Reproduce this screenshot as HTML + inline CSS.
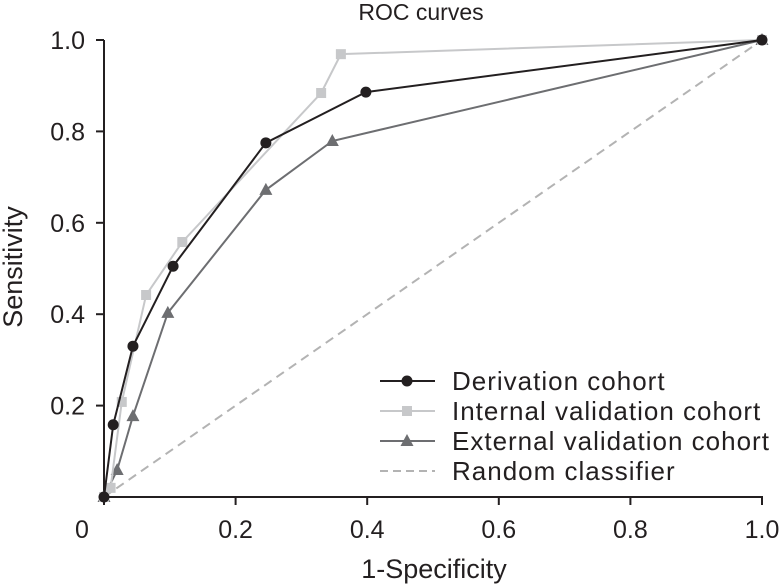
<!DOCTYPE html>
<html><head><meta charset="utf-8"><style>
body{margin:0;background:#fff}
svg{display:block;font-family:"Liberation Sans",Arial,sans-serif}
</style></head><body>
<svg id="chart" width="780" height="585">
<text x="421" y="20" font-size="23" text-anchor="middle" fill="#231f20">ROC curves</text>
<g id="axes"></g>
<g id="series"></g>
<g id="legend"></g>
</svg>
<script>
const xTicks=[0,0.2,0.4,0.6,0.8,1.0];
const yTicks=[0.2,0.4,0.6,0.8,1.0];
const xTickLabels=["0","0.2","0.4","0.6","0.8","1.0"];
const yTickLabels=["0.2","0.4","0.6","0.8","1.0"];
const derivX=[0,0.014,0.044,0.105,0.246,0.398,1];
const derivY=[0,0.158,0.33,0.505,0.775,0.886,1];
const internalX=[0,0.01,0.027,0.064,0.119,0.33,0.36,1];
const internalY=[0,0.02,0.208,0.442,0.558,0.884,0.969,1];
const externalX=[0,0.02,0.044,0.097,0.246,0.347,1];
const externalY=[0,0.059,0.177,0.403,0.672,0.779,1];
const randomX=[0,1];
const randomY=[0,1];
const legendLabels=["Derivation cohort","Internal validation cohort","External validation cohort","Random classifier"];

const NS="http://www.w3.org/2000/svg";
const X0=104,X1=762,Y0=497,Y1=40;
const sx=v=>X0+v*(X1-X0);
const sy=v=>Y0-v*(Y0-Y1);
function mk(tag,attrs,parent){const e=document.createElementNS(NS,tag);for(const k in attrs)e.setAttribute(k,attrs[k]);parent.appendChild(e);return e;}
const axes=document.getElementById('axes');
let e;
e=mk('line',{x1:X0,y1:Y1,x2:X0,y2:Y0+1,stroke:'#231f20','stroke-width':2},axes);


e=mk('line',{x1:X0-1,y1:Y0,x2:X1+1,y2:Y0,stroke:'#231f20','stroke-width':2},axes);


xTicks.forEach((v,i)=>{
 mk('line',{x1:sx(v),y1:Y0,x2:sx(v),y2:Y0+8,stroke:'#231f20','stroke-width':2},axes);
 const t=mk('text',{x:sx(v)-(i==0?22:0),y:538,'font-size':25,'text-anchor':'middle',fill:'#231f20'},axes);
 t.textContent=xTickLabels[i];
 
 
});
yTicks.forEach((v,i)=>{
 mk('line',{x1:X0-8,y1:sy(v),x2:X0,y2:sy(v),stroke:'#231f20','stroke-width':2},axes);
 const t=mk('text',{x:X0-19,y:sy(v)+9,'font-size':25,'text-anchor':'end',fill:'#231f20'},axes);
 t.textContent=yTickLabels[i];
 
 
});
e=mk('text',{x:434,y:578,'font-size':27,'text-anchor':'middle',fill:'#231f20'},axes);
e.textContent='1-Specificity';


e=mk('text',{x:0,y:0,'font-size':27,'text-anchor':'middle',fill:'#231f20',transform:'translate(22,267) rotate(-90)'},axes);
e.textContent='Sensitivity';



const ser=document.getElementById('series');
function marker(type,x,y,color,g){
 if(type==='circle')return mk('circle',{cx:x,cy:y,r:5.5,fill:color},g);
 if(type==='square')return mk('rect',{x:x-5,y:y-5,width:10,height:10,fill:color},g);
 if(type==='tri')return mk('polygon',{points:`${x},${y-7} ${x-6.5},${y+5} ${x+6.5},${y+5}`,fill:color},g);
}
function series(xs,ys,color,type,name,dash){
 const g=mk('g',{},ser);
 
 
 const p=mk('polyline',{points:xs.map((v,i)=>sx(v)+','+sy(ys[i])).join(' '),fill:'none',stroke:color,'stroke-width':2},g);
 if(dash)p.setAttribute('stroke-dasharray','9,6');
 if(type)xs.forEach((v,i)=>{const m=marker(type,sx(v),sy(ys[i]),color,g);
  
  });
}
series(randomX,randomY,'#b3b3b3',null,'random-classifier-line',true);
series(externalX,externalY,'#6d6e71','tri','external-validation-series');
series(internalX,internalY,'#c7c8ca','square','internal-validation-series');
series(derivX,derivY,'#231f20','circle','derivation-series');

const leg=document.getElementById('legend');
const legColors=['#231f20','#c7c8ca','#6d6e71','#b3b3b3'];
const legTypes=['circle','square','tri',null];
legendLabels.forEach((lab,i)=>{
 const y=381+i*30;
 const g=mk('g',{},leg);
 
 
 const l=mk('line',{x1:380,y1:y,x2:435,y2:y,stroke:legColors[i],'stroke-width':2},g);
 if(!legTypes[i])l.setAttribute('stroke-dasharray','8,5');
 else marker(legTypes[i],407,y,legColors[i],g);
 const t=mk('text',{x:452,y:y+9,'font-size':26,'letter-spacing':1,fill:'#231f20'},g);
 t.textContent=lab;
});
</script>
</body></html>
